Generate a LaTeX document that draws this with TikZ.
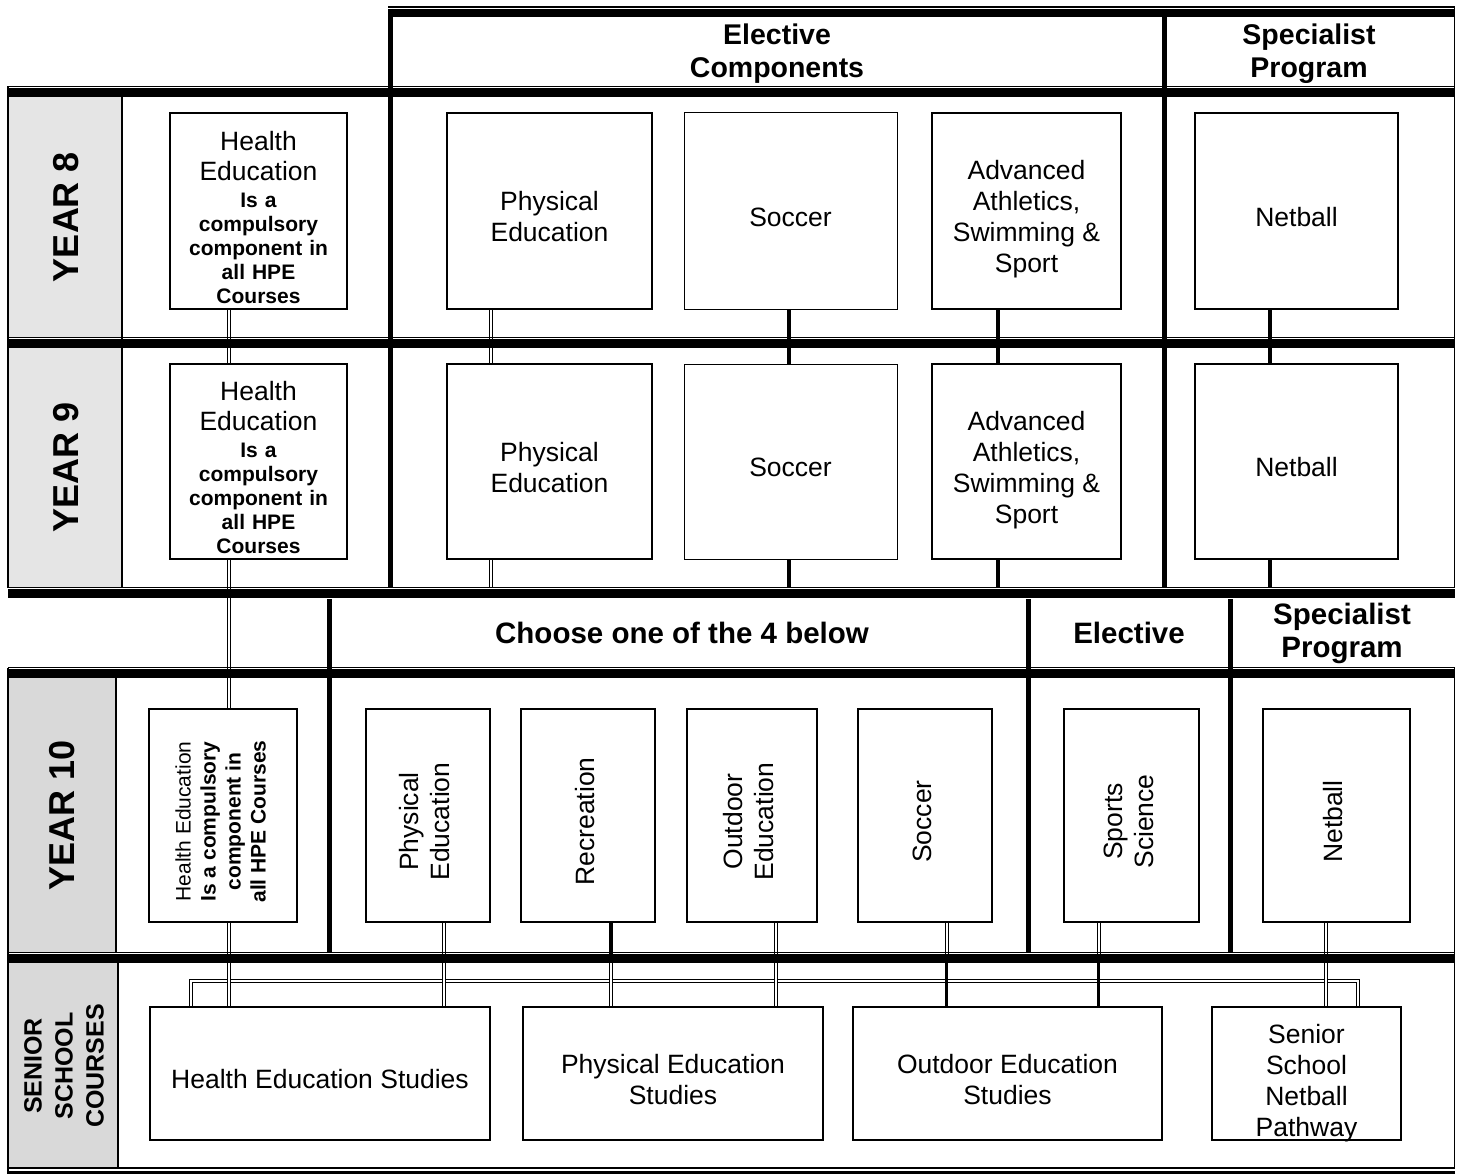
\documentclass[tikz,border=0pt]{standalone}
\usepackage{fontspec}
\setmainfont{Liberation Sans}
\usetikzlibrary{positioning}
\pgfdeclarelayer{background}
\pgfsetlayers{background,main}

\newcommand{\fsbox}{\fontsize{26.5}{31}\selectfont}
\newcommand{\fsplain}{\fontsize{26.5}{31}\selectfont\mdseries}
\newcommand{\fshead}{\fontsize{28.5}{33}\selectfont\bfseries}
\newcommand{\fschoose}{\fontsize{29.5}{33}\selectfont\bfseries}
\newcommand{\fsyear}{\fontsize{36}{40}\selectfont\bfseries}
\newcommand{\fsnote}{\fontsize{21}{24}\selectfont\bfseries}
\newcommand{\fsside}{\fontsize{21}{25}\selectfont}
% box text sits a little low, as in the original
\newcommand{\btext}[2][40pt]{\begin{tabular}{@{}c@{}}\rule{0pt}{#1}#2\end{tabular}}
% turned text, with a little room on its upper end
\newcommand{\vtext}[1]{\rotatebox{90}{\begin{tabular}{@{}c@{\hspace{12pt}}}#1\end{tabular}}}
% thin line with a heavy one just under it
\newcommand{\rowsep}[3]{%
  \draw[thinrule] (#1,#3) -- (#2,#3);
  \draw[thickrule] (#1,#3+6) -- (#2,#3+6);}

\begin{document}
\begin{tikzpicture}[x=1pt, y=-1pt,
    box/.style={draw, line width=1.5pt, inner sep=0pt, font=\fsbox},
    lightbox/.style={box, line width=1pt},
    notebox/.style={draw, line width=1.5pt, inner sep=0pt, align=center, text height=32pt, font=\fsnote},
    boxsize/.style 2 args={minimum width=#1pt, minimum height=#2pt},
    head/.style={align=center, font=\fshead},
    yearlabel/.style={rotate=90, font=\fsyear},
    thinrule/.style={line width=1.5pt},
    thickrule/.style={line width=8.5pt},
    divider/.style={line width=5pt},
    dline/.style={double, double distance=2pt, line width=1pt},
    sline/.style={line width=3.5pt},
    shadeA/.style={fill=black!10},
    shadeB/.style={fill=black!15}]
  \useasboundingbox (0,0) rectangle (1463,1174);

  % headings
  \node[head] (elec) at (777,54) {Elective\\Components};
  \node[head] (spec) at (1309,54) {Specialist\\Program};
  \node[head, font=\fschoose] (choose) at (682,633) {Choose one of the 4 below};
  \node[head, font=\fschoose] (elec10) at (1129,633) {Elective};
  \node[head, font=\fschoose] (spec10) at (1342,633) {Specialist\\Program};

  % year labels
  \node[yearlabel] (y8) at (66,217) {YEAR 8};
  \node[yearlabel] (y9) at (66,467) {YEAR 9};
  \node[yearlabel] (y10) at (62,815) {YEAR 10};
  \node[rotate=90, align=center, font=\fontsize{25}{31}\selectfont\bfseries] (ysen) at (64,1066) {SENIOR\\SCHOOL\\COURSES};

  % year 8
  \node[notebox, boxsize={177}{196}, text width=177pt] (he8) at (258.5,211)
    {{\fsplain Health}\\[6pt]{\fsplain Education}\\[3pt]Is a\\compulsory\\component in\\all HPE\\Courses};
  \node[box, boxsize={205}{196}] (pe8) at (549.5,211) {\btext{Physical\\Education}};
  \node[lightbox, boxsize={213}{196}] (so8) at (790.5,211) {\btext{Soccer}};
  \node[box, boxsize={189}{196}] (aa8) at (1026.5,211) {\btext{Advanced\\Athletics,\\Swimming \&\\Sport}};
  \node[box, boxsize={203}{196}] (nb8) at (1296.5,211) {\btext{Netball}};

  % year 9
  \node[notebox, boxsize={177}{195}, text width=177pt] (he9) at (258.5,461.5)
    {{\fsplain Health}\\[6pt]{\fsplain Education}\\[3pt]Is a\\compulsory\\component in\\all HPE\\Courses};
  \node[box, boxsize={205}{195}] (pe9) at (549.5,461.5) {\btext{Physical\\Education}};
  \node[lightbox, boxsize={213}{195}] (so9) at (790.5,461.5) {\btext{Soccer}};
  \node[box, boxsize={189}{195}] (aa9) at (1026.5,461.5) {\btext{Advanced\\Athletics,\\Swimming \&\\Sport}};
  \node[box, boxsize={203}{195}] (nb9) at (1296.5,461.5) {\btext{Netball}};

  % year 10
  \node[box, boxsize={148}{213}] (he10) at (223,815.5)
    {\fsside\vtext{Health Education\\\bfseries Is a compulsory\\\bfseries component in\\\bfseries all HPE Courses}};
  \node[box, boxsize={124}{213}] (pe10) at (428,815.5) {\vtext{Physical\\Education}};
  \node[box, boxsize={134}{213}] (re10) at (588,815.5) {\vtext{Recreation}};
  \node[box, boxsize={130}{213}] (oe10) at (752,815.5) {\vtext{Outdoor\\Education}};
  \node[box, boxsize={134}{213}] (so10) at (925,815.5) {\vtext{Soccer}};
  \node[box, boxsize={135}{213}] (sc10) at (1131.5,815.5) {\vtext{Sports\\Science}};
  \node[box, boxsize={147}{213}] (nb10) at (1336.5,815.5) {\vtext{Netball}};

  % senior school
  \node[box, boxsize={340}{133}] (hes) at (320,1073.5) {\btext{Health Education Studies}};
  \node[box, boxsize={300}{133}] (pes) at (673,1073.5) {\btext{Physical Education\\Studies}};
  \node[box, boxsize={309}{133}] (oes) at (1007.5,1073.5) {\btext{Outdoor Education\\Studies}};
  \node[box, boxsize={189}{133}] (ssn) at (1306.5,1073.5) {\btext[36pt]{Senior\\School\\Netball\\Pathway\\[-6pt]}};

  % where the links run
  \coordinate (xhe) at (228.5,0);
  \coordinate (xpe) at (490.5,0);
  \coordinate (xso) at (789,0);
  \coordinate (xaa) at (998,0);
  \coordinate (xnb) at (1270,0);
  \coordinate (xpe10) at (443.5,0);
  \coordinate (xre) at (611,0);
  \coordinate (xoe) at (776,0);
  \coordinate (xso10) at (946.5,0);
  \coordinate (xsc) at (1098.5,0);
  \coordinate (xnb10) at (1325.5,0);
  \coordinate (xbl) at (190.5,0);
  \coordinate (xbr) at (1357.5,0);
  \coordinate (r9end) at (0,587);
  \coordinate (r10sep) at (0,958);
  \coordinate (bar) at (0,980.5);

  \begin{pgfonlayer}{background}
    \fill[shadeA] (8,97) rectangle (122,337.5);
    \fill[shadeA] (8,348) rectangle (122,587.5);
    \fill[shadeB] (8,677) rectangle (116,952.5);
    \fill[shadeB] (8,963) rectangle (118,1168);

    % year 8 to year 9
    \draw[dline] (he8.south -| xhe) -- (he9.north -| xhe);
    \draw[dline] (pe8.south -| xpe) -- (pe9.north -| xpe);
    \draw[sline] (so8.south -| xso) -- (so9.north -| xso);
    \draw[sline] (aa8.south -| xaa) -- (aa9.north -| xaa);
    \draw[sline] (nb8.south -| xnb) -- (nb9.north -| xnb);
    \draw[dline] (pe9.south -| xpe) -- (r9end -| xpe);
    \draw[sline] (so9.south -| xso) -- (r9end -| xso);
    \draw[sline] (aa9.south -| xaa) -- (r9end -| xaa);
    \draw[sline] (nb9.south -| xnb) -- (r9end -| xnb);
    \draw[dline] (he9.south -| xhe) -- (he10.north -| xhe);

    % year 10 to senior school
    \draw[dline] (hes.north -| xbl) -- (bar -| xbl) -- (bar -| xbr) -- (ssn.north -| xbr);
    \draw[dline] (he10.south -| xhe) -- (hes.north -| xhe);
    \draw[dline] (pe10.south -| xpe10) -- (hes.north -| xpe10);
    \draw[sline] (re10.south -| xre) -- (r10sep -| xre);
    \draw[dline] (r10sep -| xre) -- (pes.north -| xre);
    \draw[dline] (oe10.south -| xoe) -- (pes.north -| xoe);
    \draw[dline] (so10.south -| xso10) -- (r10sep -| xso10);
    \draw[sline] (r10sep -| xso10) -- (oes.north -| xso10);
    \draw[dline] (sc10.south -| xsc) -- (r10sep -| xsc);
    \draw[sline] (r10sep -| xsc) -- (oes.north -| xsc);
    \draw[dline] (nb10.south -| xnb10) -- (ssn.north -| xnb10);
  \end{pgfonlayer}

  % table rules
  \rowsep{388}{1455}{7}
  \rowsep{8}{1455}{86.5}
  \rowsep{8}{1455}{337.5}
  \rowsep{8}{1455}{587.5}
  \rowsep{8}{1455}{667.5}
  \rowsep{8}{1455}{952.5}
  \draw[thinrule] (8,1168) -- (1455,1168);
  \draw[line width=3pt] (8,1172.5) -- (1455,1172.5);

  \draw[divider] (390.5,9) -- (390.5,587.5);
  \draw[divider] (1164,9) -- (1164,587.5);
  \draw[thinrule] (1454.5,7) -- (1454.5,587.5);
  \draw[thinrule] (1454.5,667.5) -- (1454.5,1168);
  \draw[thinrule] (8,86.5) -- (8,587.5);
  \draw[thinrule] (8,667.5) -- (8,1174);
  \draw[thinrule] (122,97) -- (122,587.5);
  \draw[thinrule] (116,677) -- (116,952.5);
  \draw[thinrule] (118,963) -- (118,1168);
  \draw[divider] (329.5,599) -- (329.5,952.5);
  \draw[divider] (1028,599) -- (1028,952.5);
  \draw[divider] (1230.5,599) -- (1230.5,952.5);
\end{tikzpicture}
\end{document}
